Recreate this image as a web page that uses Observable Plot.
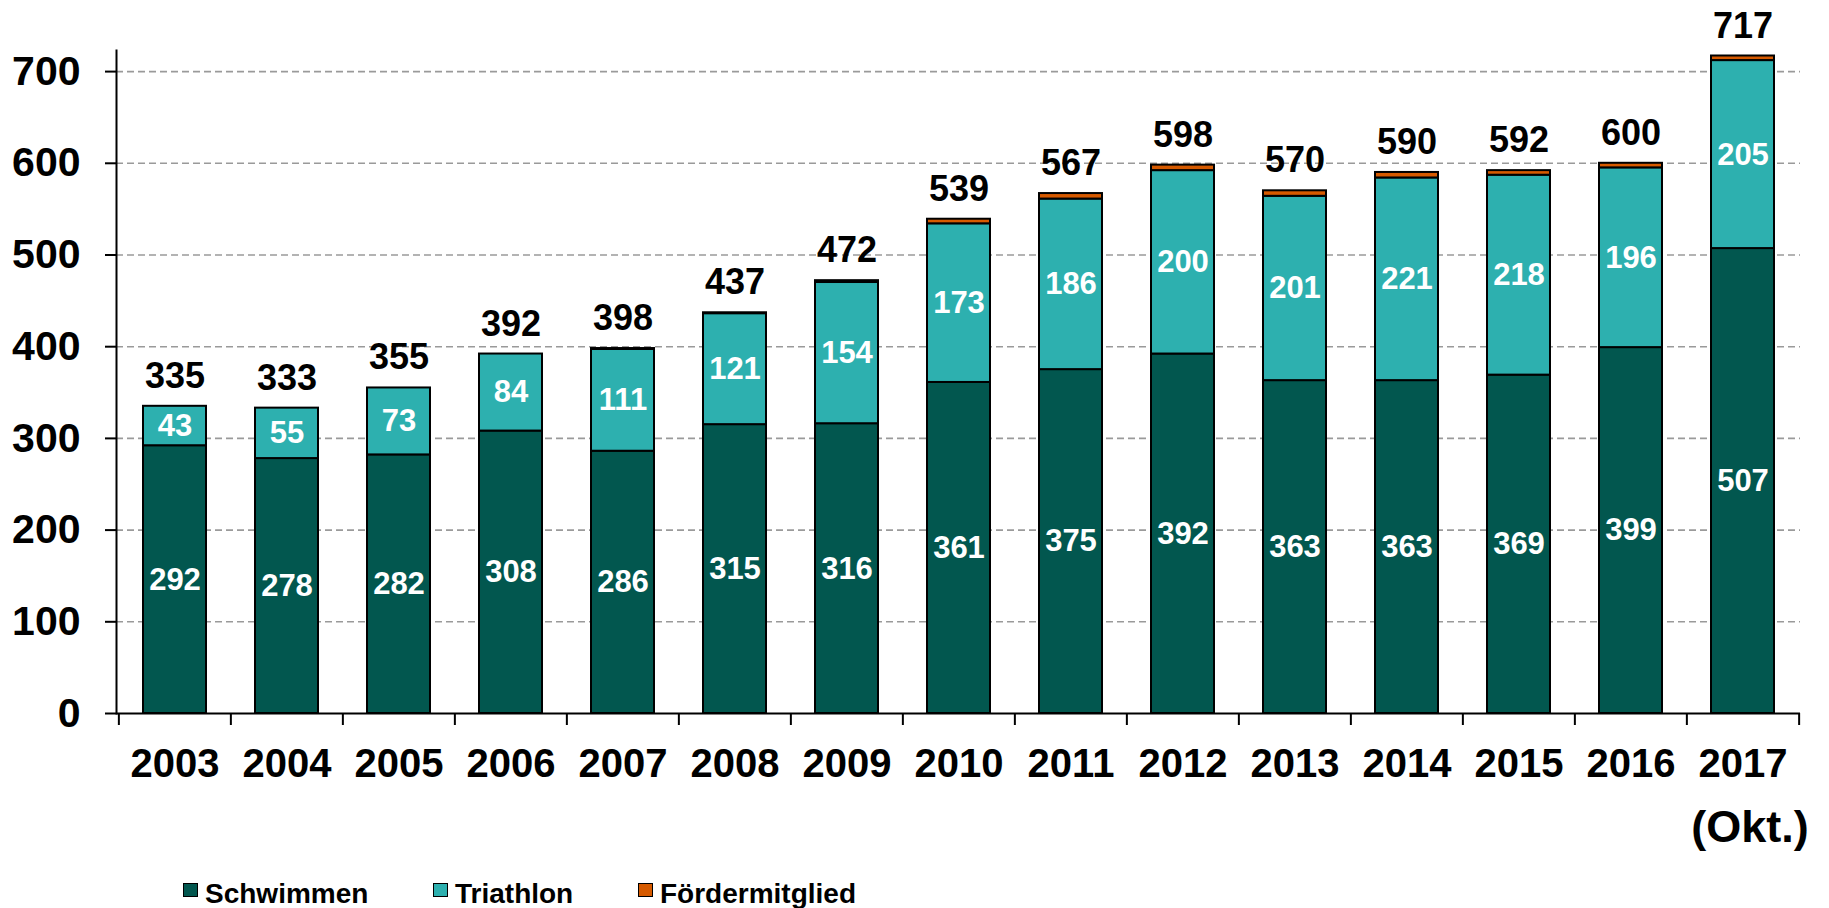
<!DOCTYPE html>
<html>
<head>
<meta charset="utf-8">
<script src="https://cdn.jsdelivr.net/npm/d3@7"></script>
<script src="https://cdn.jsdelivr.net/npm/@observablehq/plot@0.6"></script>
<style>
  html, body { margin: 0; padding: 0; background: #fff; }
  body { position: relative; width: 1829px; height: 908px; overflow: hidden; font-family: "Liberation Sans", Arial, sans-serif; }
  #chart { position: absolute; left: 0; top: 0; }
  .sw { position: absolute; top: 883px; width: 15px; height: 14px; box-sizing: border-box; border: 1.5px solid #000; }
  .lt { position: absolute; top: 880px; font-weight: bold; font-size: 28px; line-height: 28px; color: #000; white-space: nowrap; }
</style>
</head>
<body>
<div id="chart"></div>
<div id="legend"></div>
<script>
const years = ["2003","2004","2005","2006","2007","2008","2009","2010","2011","2012","2013","2014","2015","2016","2017"];
const schwimmen = [292,278,282,308,286,315,316,361,375,392,363,363,369,399,507];
const triathlon = [43,55,73,84,111,121,154,173,186,200,201,221,218,196,205];
const foerder = [0,0,0,0,1,1,2,5,6,6,6,6,5,5,5];
const totals = [335,333,355,392,398,437,472,539,567,598,570,590,592,600,717];
const seriesNames = ["Schwimmen","Triathlon","Fördermitglied"];
const seriesColors = ["#02574F","#2DB0AF","#D65A00"];
const yTicks = [0,100,200,300,400,500,600,700];
const lastYearNote = "(Okt.)";

const seriesValues = [schwimmen, triathlon, foerder];
const rows = years.flatMap((yr, i) => seriesNames.map((s, j) => ({year: yr, series: s, value: seriesValues[j][i]})));
const labelRows = rows.filter(d => d.series !== "Fördermitglied");
const barRows = rows.filter(d => d.value > 0);
const lastYear = years[years.length - 1];

const W = 1829, H = 872, ML = 116, MR = 29, MT = 50, MB = 159;
const step = (W - ML - MR) / years.length;
const font = "'Liberation Sans', Arial, sans-serif";

const chart = Plot.plot({
  width: W, height: H,
  marginLeft: ML, marginRight: MR, marginTop: MT, marginBottom: MB,
  style: {fontFamily: font, background: "transparent", color: "black"},
  x: {domain: years, paddingInner: 0.44, paddingOuter: 0.22, label: null},
  y: {domain: [0, 723], label: null},
  color: {domain: seriesNames, range: seriesColors},
  marks: [
    Plot.gridY(yTicks.filter(t => t > 0), {stroke: "#9a9a9a", strokeOpacity: 1, strokeWidth: 1.6, strokeDasharray: "7,4"}),
    Plot.barY(barRows, {x: "year", y: "value", fill: "series", z: "series", order: seriesNames, stroke: "black", strokeWidth: 2}),
    Plot.text(labelRows, Plot.stackY({x: "year", y: "value", z: "series", order: seriesNames.slice(0, 2), text: d => String(d.value), fill: "white", fontSize: 31, fontWeight: "bold"})),
    Plot.text(years, {x: d => d, y: (d, i) => totals[i], text: (d, i) => String(totals[i]), dy: -30, fontSize: 36, fontWeight: "bold", fill: "black"}),
    Plot.ruleY([0], {stroke: "black", strokeWidth: 2}),
    Plot.frame({anchor: "left", stroke: "black", strokeWidth: 2}),
    Plot.ruleX(years, {x: d => d, y1: 0, y2: 0, insetBottom: -12, dx: -step / 2, stroke: "black", strokeWidth: 2}),
    Plot.ruleX([lastYear], {x: d => d, y1: 0, y2: 0, insetBottom: -12, dx: step / 2, stroke: "black", strokeWidth: 2}),
    Plot.axisY({ticks: yTicks, label: null, tickSize: 11, tickPadding: 25, fontSize: 41, fontWeight: "bold", strokeWidth: 2, tickFormat: d => String(d)}),
    Plot.axisX({label: null, tickSize: 0, tickPadding: 35, fontSize: 40, fontWeight: "bold"}),
    Plot.text([lastYearNote], {x: () => lastYear, y: () => 0, text: d => d, dy: 114, dx: 7, fontSize: 45, fontWeight: "bold", fill: "black"})
  ]
});
document.getElementById("chart").appendChild(chart);

const legendLefts = [183, 433, 638];
const legend = document.getElementById("legend");
seriesNames.forEach((s, i) => {
  const sw = document.createElement("div");
  sw.className = "sw";
  sw.style.left = legendLefts[i] + "px";
  sw.style.background = seriesColors[i];
  const t = document.createElement("div");
  t.className = "lt";
  t.style.left = (legendLefts[i] + 22) + "px";
  t.textContent = s;
  legend.appendChild(sw);
  legend.appendChild(t);
});
</script>
</body>
</html>
